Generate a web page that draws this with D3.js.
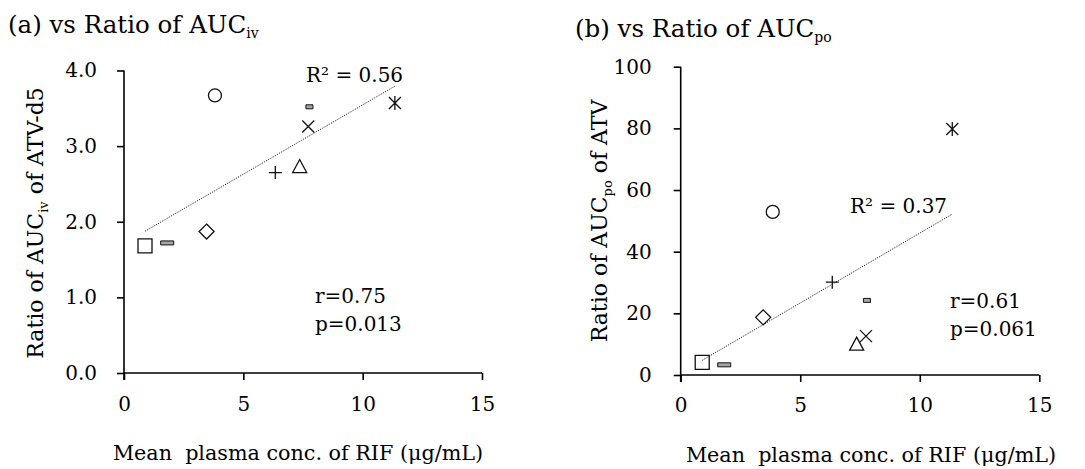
<!DOCTYPE html>
<html>
<head>
<meta charset="utf-8">
<script src="https://cdn.jsdelivr.net/npm/d3@7"></script>
<style>
  html, body { margin: 0; padding: 0; background: #fff; }
  svg { display: block; }
  text { font-family: "DejaVu Serif", serif; fill: #000; }
</style>
</head>
<body>
<svg id="chart" width="1085" height="469"></svg>
<script>
// ---------- data ----------
const markerTypes = ["square", "longDash", "diamond", "circle", "plus", "triangle", "cross", "shortDash", "asterisk"];
const rifConcA = [0.88, 1.81, 3.46, 3.81, 6.34, 7.36, 7.72, 7.77, 11.35];
const ratioAUCiv = [1.68, 1.72, 1.87, 3.67, 2.65, 2.73, 3.26, 3.52, 3.57];
const rifConcB = [0.90, 1.82, 3.45, 3.85, 6.34, 7.36, 7.75, 7.79, 11.36];
const ratioAUCpo = [4.1, 3.3, 18.7, 52.9, 30.1, 10.0, 12.6, 24.2, 79.8];
const xTicks = [0, 5, 10, 15];
const yTicksA = [0, 1, 2, 3, 4];
const yTicksB = [0, 20, 40, 60, 80, 100];
const statsA = { r2: "R² = 0.56", r: "r=0.75", p: "p=0.013" };
const statsB = { r2: "R² = 0.37", r: "r=0.61", p: "p=0.061" };

const svg = d3.select("#chart");
const FS = 20;

function markerPath(type, x, y) {
  const p = d3.path();
  switch (type) {
    case "square": p.rect(x - 7, y - 7, 14, 14); break;
    case "diamond": p.moveTo(x, y - 7.5); p.lineTo(x + 7.5, y); p.lineTo(x, y + 7.5); p.lineTo(x - 7.5, y); p.closePath(); break;
    case "circle": p.moveTo(x + 6.5, y); p.arc(x, y, 6.5, 0, Math.PI * 2); break;
    case "plus": p.moveTo(x - 6.5, y); p.lineTo(x + 6.5, y); p.moveTo(x, y - 6.5); p.lineTo(x, y + 6.5); break;
    case "triangle": p.moveTo(x, y - 7); p.lineTo(x + 7, y + 6); p.lineTo(x - 7, y + 6); p.closePath(); break;
    case "cross": p.moveTo(x - 6, y - 6); p.lineTo(x + 6, y + 6); p.moveTo(x + 6, y - 6); p.lineTo(x - 6, y + 6); break;
    case "asterisk": p.moveTo(x - 6, y - 6); p.lineTo(x + 6, y + 6); p.moveTo(x + 6, y - 6); p.lineTo(x - 6, y + 6); p.moveTo(x, y - 7); p.lineTo(x, y + 7); break;
    case "longDash": p.rect(x - 6.5, y - 2, 13, 4); break;
    case "shortDash": p.rect(x - 3.5, y - 2, 7, 4); break;
  }
  return p.toString();
}

function drawPanel(cfg) {
  const g = svg.append("g");
  const x = d3.scaleLinear().domain([0, 15]).range([cfg.left, cfg.right]);
  const y = d3.scaleLinear().domain(cfg.yDomain).range([cfg.bottom, cfg.top]);

  // axes
  const ax = g.append("g").attr("transform", `translate(0,${cfg.bottom})`)
    .call(d3.axisBottom(x).tickValues(xTicks).tickSize(7).tickPadding(cfg.xPad).tickFormat(d3.format("d")));
  const ay = g.append("g").attr("transform", `translate(${cfg.left},0)`)
    .call(d3.axisLeft(y).tickValues(cfg.yTicks).tickSize(7).tickPadding(cfg.yPad).tickFormat(d3.format(cfg.yFmt)));
  [ax, ay].forEach(a => {
    a.select(".domain").attr("stroke", "#000").attr("stroke-width", 1.6);
    a.selectAll(".tick line").attr("stroke", "#000").attr("stroke-width", 1.6);
    a.selectAll(".tick text").attr("font-family", "DejaVu Serif").attr("font-size", FS).attr("fill", "#000");
  });
  ax.select(".domain").attr("d", `M${cfg.left},0H${cfg.right}`);
  ay.select(".domain").attr("d", `M0,${cfg.top}V${cfg.bottom + 7}`);

  // trend line (least squares)
  const xs = cfg.xs, ys = cfg.ys;
  const mx = d3.mean(xs), my = d3.mean(ys);
  const sxy = d3.sum(xs, (v, i) => (v - mx) * (ys[i] - my));
  const sxx = d3.sum(xs, v => (v - mx) * (v - mx));
  const slope = sxy / sxx, icpt = my - slope * mx;
  const [x0, x1] = d3.extent(xs);
  g.append("line")
    .attr("x1", x(x0)).attr("y1", y(icpt + slope * x0))
    .attr("x2", x(x1)).attr("y2", y(icpt + slope * x1))
    .attr("stroke", "#222").attr("stroke-width", 1).attr("stroke-dasharray", "1.2,1.3");

  // markers
  g.selectAll("path.mk").data(xs.map((v, i) => ({ x: v, y: ys[i], t: markerTypes[i] })))
    .enter().append("path").attr("class", "mk")
    .attr("d", d => markerPath(d.t, x(d.x), y(d.y)))
    .attr("fill", d => (d.t === "longDash" || d.t === "shortDash") ? "#a6a6a6" : "none")
    .attr("stroke", "#111").attr("stroke-width", d => (d.t === "longDash" || d.t === "shortDash") ? 1 : 1.3);

  // title
  const t = g.append("text").attr("x", cfg.titleX).attr("y", cfg.titleY).attr("font-size", 24.5);
  t.append("tspan").text(cfg.titleMain);
  t.append("tspan").attr("font-size", 14).attr("dy", 5).text(cfg.titleSub);

  // y label
  const yl = g.append("text").attr("transform", `translate(${cfg.yLabelX},${cfg.yLabelY}) rotate(-90)`)
    .attr("text-anchor", "middle").attr("font-size", 22);
  yl.append("tspan").text("Ratio of AUC");
  yl.append("tspan").attr("font-size", 13).attr("dy", 5).text(cfg.yLabelSub);
  yl.append("tspan").attr("dy", -5).text(cfg.yLabelRest);

  // x label
  g.append("text").attr("x", (cfg.left + cfg.right) / 2 + cfg.xLabelShift).attr("y", cfg.xLabelY)
    .attr("text-anchor", "middle").attr("font-size", 20.7).attr("xml:space", "preserve")
    .style("white-space", "pre").text("Mean  plasma conc. of RIF (μg/mL)");

  // stats
  g.append("text").attr("x", cfg.r2X).attr("y", cfg.r2Y).attr("font-size", FS).text(cfg.stats.r2);
  g.append("text").attr("x", cfg.rX).attr("y", cfg.rY).attr("font-size", FS).text(cfg.stats.r);
  g.append("text").attr("x", cfg.rX).attr("y", cfg.rY + 28).attr("font-size", FS).text(cfg.stats.p);
}

drawPanel({
  left: 124, right: 482, top: 70.5, bottom: 373,
  yDomain: [0, 4], yTicks: yTicksA, yFmt: ".1f", yPad: 20, xPad: 17,
  xs: rifConcA, ys: ratioAUCiv,
  titleX: 8, titleY: 33, titleMain: "(a) vs Ratio of AUC", titleSub: "iv",
  yLabelX: 43, yLabelY: 223, yLabelSub: "iv", yLabelRest: " of ATV-d5",
  xLabelY: 460, xLabelShift: -5,
  r2X: 306, r2Y: 82, rX: 315, rY: 303, stats: statsA
});

drawPanel({
  left: 680.7, right: 1039.3, top: 66.7, bottom: 375,
  yDomain: [0, 100], yTicks: yTicksB, yFmt: "d", yPad: 22, xPad: 16,
  xs: rifConcB, ys: ratioAUCpo,
  titleX: 575, titleY: 37, titleMain: "(b) vs Ratio of AUC", titleSub: "po",
  yLabelX: 607, yLabelY: 221, yLabelSub: "po", yLabelRest: " of ATV",
  xLabelY: 462, xLabelShift: 11,
  r2X: 850, r2Y: 213, rX: 950, rY: 308, stats: statsB
});
</script>
</body>
</html>
